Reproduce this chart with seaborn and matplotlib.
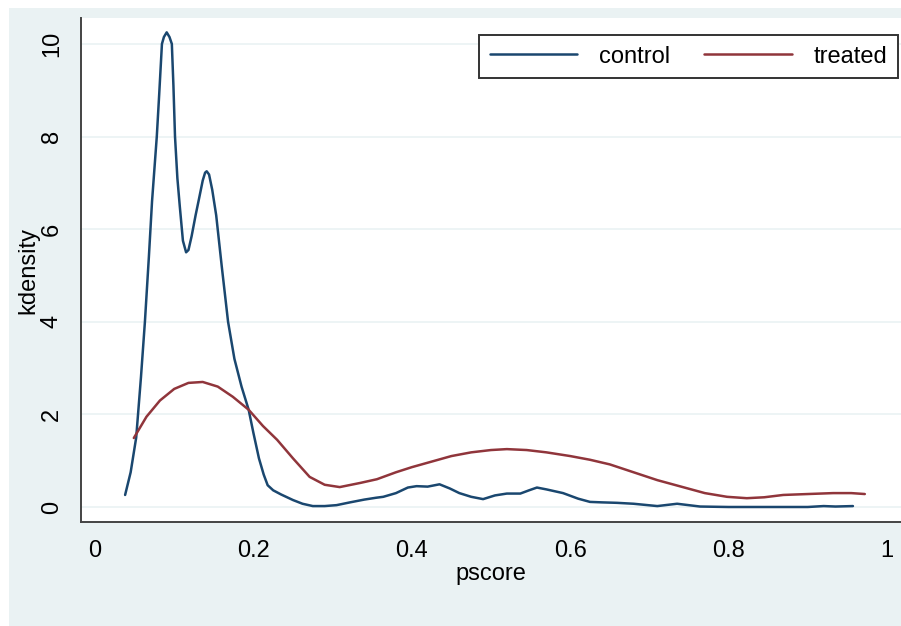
import pandas as pd
import matplotlib.pyplot as plt
import matplotlib.patches as mpatches
import seaborn as sns

# ── données (densités kernel du pscore) ──
control_x = [0.038, 0.045, 0.052, 0.058, 0.063, 0.068, 0.072, 0.078, 0.081,
             0.0845, 0.087, 0.0905, 0.094, 0.097, 0.099, 0.101, 0.104, 0.107,
             0.111, 0.115, 0.118, 0.122, 0.127, 0.131, 0.136, 0.139, 0.141,
             0.144, 0.148, 0.153, 0.16, 0.168, 0.176, 0.185, 0.194, 0.2,
             0.207, 0.213, 0.218, 0.225, 0.235, 0.25, 0.262, 0.275, 0.29,
             0.305, 0.322, 0.34, 0.355, 0.364, 0.38, 0.395, 0.406, 0.42,
             0.435, 0.448, 0.46, 0.475, 0.49, 0.505, 0.52, 0.537, 0.548,
             0.558, 0.57, 0.591, 0.61, 0.625, 0.64, 0.659, 0.68, 0.71,
             0.735, 0.764, 0.8, 0.85, 0.9, 0.92, 0.935, 0.957]
control_y = [0.26, 0.75, 1.5, 2.8, 4.0, 5.4, 6.6, 8.0, 8.9,
             10.0, 10.15, 10.25, 10.15, 10.0, 9.1, 8.0, 7.1, 6.5,
             5.75, 5.5, 5.55, 5.85, 6.3, 6.63, 7.05, 7.22, 7.25,
             7.18, 6.85, 6.3, 5.2, 4.0, 3.2, 2.6, 2.1, 1.6,
             1.05, 0.7, 0.47, 0.36, 0.27, 0.15, 0.07, 0.02, 0.02,
             0.04, 0.1, 0.16, 0.2, 0.22, 0.3, 0.42, 0.45, 0.44,
             0.49, 0.4, 0.3, 0.22, 0.17, 0.25, 0.29, 0.29, 0.36,
             0.42, 0.38, 0.3, 0.18, 0.11, 0.1, 0.09, 0.07, 0.02,
             0.07, 0.01, 0.0, 0.0, 0.0, 0.02, 0.01, 0.02]

treated_x = [0.049, 0.065, 0.082, 0.1, 0.118, 0.136, 0.155, 0.174, 0.194,
             0.212, 0.23, 0.25, 0.271, 0.29, 0.309, 0.335, 0.356, 0.38,
             0.4, 0.425, 0.45, 0.475, 0.5, 0.52, 0.545, 0.57, 0.6, 0.625,
             0.65, 0.68, 0.71, 0.74, 0.77, 0.798, 0.823, 0.845, 0.869,
             0.9, 0.932, 0.955, 0.972]
treated_y = [1.49, 1.95, 2.3, 2.55, 2.68, 2.7, 2.6, 2.38, 2.1,
             1.75, 1.45, 1.05, 0.65, 0.48, 0.43, 0.52, 0.6, 0.75,
             0.86, 0.98, 1.1, 1.18, 1.23, 1.25, 1.23, 1.18, 1.1, 1.02,
             0.92, 0.75, 0.58, 0.44, 0.3, 0.22, 0.19, 0.21, 0.26,
             0.28, 0.3, 0.3, 0.28]

x_ticks = [0, 0.2, 0.4, 0.6, 0.8, 1]
x_labels = ['0', '0.2', '0.4', '0.6', '0.8', '1']
y_ticks = [0, 2, 4, 6, 8, 10]

df = pd.concat([
    pd.DataFrame({'pscore': control_x, 'kdensity': control_y, 'groupe': 'control'}),
    pd.DataFrame({'pscore': treated_x, 'kdensity': treated_y, 'groupe': 'treated'}),
], ignore_index=True)

# ── style "Stata s2color" ──
sns.set_style('white')
plt.rcParams['font.family'] = ['Liberation Sans', 'DejaVu Sans']
plt.rcParams['text.color'] = 'black'
plt.rcParams['axes.labelcolor'] = 'black'
plt.rcParams['xtick.color'] = 'black'
plt.rcParams['ytick.color'] = 'black'
bg = '#EAF2F3'
W, H = 901, 626
fs = 17

fig = plt.figure(figsize=(W / 100, H / 100), dpi=100, facecolor='white')
fig.add_artist(mpatches.Rectangle((9 / W, 0), 1 - 9 / W, 1 - 8 / H,
                                  transform=fig.transFigure,
                                  facecolor=bg, edgecolor='none',
                                  zorder=-10))
ax = fig.add_axes([81 / W, (H - 522) / H, (W - 81) / W, (522 - 18) / H])
ax.set_zorder(1)
ax.set_facecolor('white')

sns.lineplot(data=df, x='pscore', y='kdensity', hue='groupe',
             palette={'control': '#1A476F', 'treated': '#90353B'},
             estimator=None, sort=False, linewidth=1.8, ax=ax)

ax.set_xlim(-0.0177, 1.0177)
ax.set_ylim(-0.324, 10.56)
ax.set_xticks(x_ticks)
ax.set_xticklabels(x_labels)
ax.set_yticks(y_ticks)
ax.tick_params(axis='y', labelrotation=90, length=6, width=1.2,
               color='#333333', labelcolor='black', pad=7, labelsize=fs)
ax.tick_params(axis='x', length=6, width=1.2, color='#333333',
               labelcolor='black', pad=7, labelsize=fs)
for lab in ax.get_yticklabels():
    lab.set_va('center')
ax.grid(axis='y', color=bg, linewidth=1.2)
ax.set_axisbelow(True)

sns.despine(ax=ax)
for s in ['left', 'bottom']:
    ax.spines[s].set_color('#444444')
    ax.spines[s].set_linewidth(1.4)

ax.set_xlabel('pscore', fontsize=fs, labelpad=1, color='black')
ax.set_ylabel('kdensity', fontsize=fs, labelpad=1, color='black')

leg = ax.legend(ncol=2, loc='upper right',
                bbox_to_anchor=(898 / W, 1 - 35 / H),
                bbox_transform=fig.transFigure,
                fontsize=fs, frameon=True, fancybox=False,
                handlelength=3.7, handletextpad=0.93, columnspacing=1.45,
                borderpad=0.45, borderaxespad=0)
leg.get_frame().set_edgecolor('#333333')
leg.get_frame().set_linewidth(1.4)
leg.get_frame().set_alpha(1)
for ln in leg.get_lines():
    ln.set_linewidth(1.8)

plt.savefig('out.png', dpi=100, facecolor='white')
